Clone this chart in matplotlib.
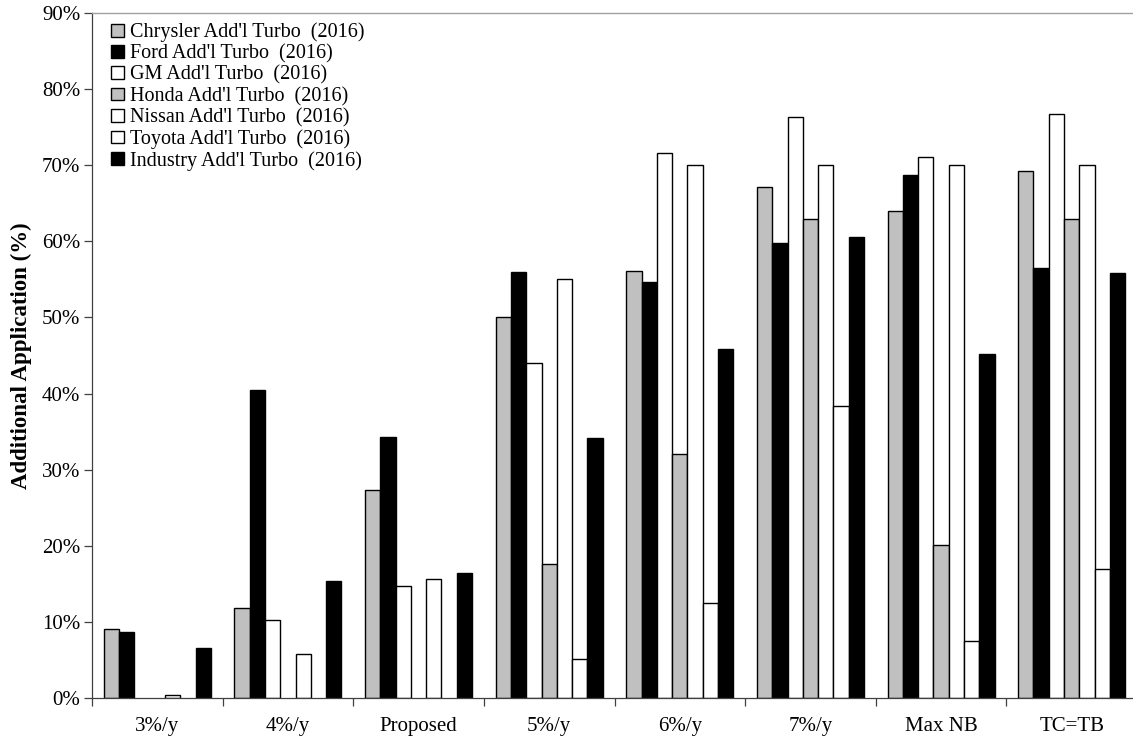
import matplotlib
matplotlib.use("Agg")
import matplotlib.pyplot as plt
import numpy as np
from matplotlib.patches import Patch

plt.rcParams['font.family'] = ['Liberation Serif', 'DejaVu Serif']

scenarios = ["3%/y", "4%/y", "Proposed", "5%/y", "6%/y", "7%/y", "Max NB", "TC=TB"]

series_names = [
    "Chrysler Add'l Turbo  (2016)",
    "Ford Add'l Turbo  (2016)",
    "GM Add'l Turbo  (2016)",
    "Honda Add'l Turbo  (2016)",
    "Nissan Add'l Turbo  (2016)",
    "Toyota Add'l Turbo  (2016)",
    "Industry Add'l Turbo  (2016)",
]

chrysler = [9.0, 11.8, 27.3, 50.1, 56.1, 67.1, 64.0, 69.3]
ford = [8.6, 40.4, 34.3, 56.0, 54.6, 59.8, 68.8, 56.5]
gm = [0.0, 10.2, 14.7, 44.0, 71.6, 76.4, 71.1, 76.7]
honda = [0.0, 0.0, 0.0, 17.6, 32.0, 62.9, 20.1, 62.9]
nissan = [0.4, 5.7, 15.6, 55.1, 70.1, 70.1, 70.1, 70.1]
toyota = [0.0, 0.0, 0.0, 5.1, 12.4, 38.3, 7.5, 16.9]
industry = [6.5, 15.3, 16.4, 34.2, 45.9, 60.6, 45.2, 55.8]

series_values = [chrysler, ford, gm, honda, nissan, toyota, industry]
series_colors = ["#c0c0c0", "#000000", "#ffffff", "#c0c0c0", "#ffffff", "#ffffff", "#000000"]

fig = plt.figure(figsize=(11.33, 7.42), dpi=100)
ax = fig.add_axes([92 / 1133, 1 - 697.7 / 742, (1137 - 92) / 1133, (697.7 - 13.3) / 742])

n_series = len(series_values)
bar_w = 0.117
centers = np.arange(len(scenarios)) + 0.5
for j, (vals, col) in enumerate(zip(series_values, series_colors)):
    x = centers + (j - (n_series - 1) / 2) * bar_w
    vals = np.array(vals) / 100.0
    keep = vals > 0
    ax.bar(x[keep], vals[keep], width=bar_w, color=col, edgecolor="black",
           linewidth=1.0, zorder=2)

ax.set_xlim(0, len(scenarios))
ax.set_ylim(0, 0.9)
ax.set_yticks(np.arange(0, 0.91, 0.1))
ax.set_yticklabels([f"{int(round(v * 100))}%" for v in np.arange(0, 0.91, 0.1)])
ax.set_xticks(np.arange(len(scenarios) + 1))
ax.set_xticklabels([])
ax.set_xticks(centers, minor=True)
ax.set_xticklabels(scenarios, minor=True)
ax.tick_params(axis="x", which="minor", length=0, pad=14, labelsize=15)
ax.tick_params(axis="x", which="major", direction="out", length=6, width=0.9, color="#404040")
ax.tick_params(axis="y", direction="out", length=6, width=0.9, color="#404040", labelsize=15, pad=2.5)

for side in ("left", "bottom"):
    ax.spines[side].set_color("#404040")
    ax.spines[side].set_linewidth(0.9)
ax.spines["top"].set_color("#a0a0a0")
ax.spines["top"].set_linewidth(1.0)
ax.spines["right"].set_visible(False)

ax.set_ylabel("Additional Application (%)", fontsize=16.5, fontweight="bold", labelpad=7)

handles = [Patch(facecolor=c, edgecolor="black", linewidth=1.0) for c in series_colors]
ax.legend(handles, series_names, loc="upper left", bbox_to_anchor=(0.007, 1.004),
          frameon=False, fontsize=14.5, handlelength=0.65, handleheight=0.6,
          handletextpad=0.25, labelspacing=0.1, borderaxespad=0.2)

fig.savefig("out.png", dpi=100)
